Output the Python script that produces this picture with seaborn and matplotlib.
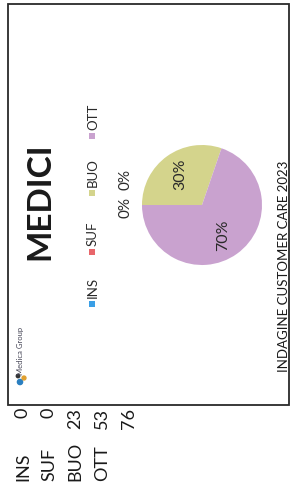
import matplotlib
matplotlib.use('Agg')
import matplotlib.pyplot as plt
from matplotlib.patches import Rectangle
import seaborn as sns

categories = ['INS', 'SUF', 'BUO', 'OTT']
counts = [0, 0, 23, 53]
total = 76
colors_hex = ['#3a9fe6', '#e8666a', '#d4d48c', '#c9a2cf']

title = 'MEDICI'
footer = 'INDAGINE CUSTOMER CARE 2023'
logo_text = 'Medica Group'

sns.set_style('white')
plt.rcParams['font.family'] = ['Lato', 'DejaVu Sans']
palette = sns.color_palette(colors_hex)

fig = plt.figure(figsize=(2.95, 4.95), dpi=100)
fig.patch.set_facecolor('white')

# overlay axes in pixel coordinates (the whole page is turned 90 degrees)
ax = fig.add_axes([0, 0, 1, 1])
ax.set_xlim(0, 295)
ax.set_ylim(495, 0)
ax.axis('off')

ax.add_patch(Rectangle((8, 4), 281, 401, fill=False, edgecolor='#2a2a2a', linewidth=1.3))

ax.text(40, 201, title, rotation=90, ha='center', va='center',
        fontsize=24, fontweight='bold', color='#1a1a1a')
ax.text(284, 266, footer, rotation=90, ha='center', va='center',
        fontsize=9.5, color='#1a1a1a')

# logo
ax.scatter([20, 24, 18], [382, 378, 376], s=[14, 8, 6], color=['#2a7fc0', '#e0a030', '#333333'], marker='o')
ax.text(21, 351, logo_text, rotation=90, ha='center', va='center', fontsize=5.5, color='#445')

# legend (drawn by hand, rotated)
legend_sq = [304, 252, 193, 136]
for cat, col, ys in zip(categories, palette, legend_sq):
    ax.scatter([92], [ys], marker='s', s=22, color=col, edgecolor='none')
    ax.text(93, ys - 6, cat, rotation=90, ha='center', va='bottom', fontsize=9.5, color='#2a2a2a')

# zero labels for INS / SUF sit above the pie
zero_y = [208, 180]
for c, yy in zip(counts[:2], zero_y):
    ax.text(126, yy, f'{c / total:.0%}', rotation=90, ha='center', va='center',
            fontsize=11, color='#2a2a2a')

# table under the box
row_x = [23, 49, 75, 102, 129]
for cat, c, xx in zip(categories, counts, row_x):
    ax.text(xx, 481, cat, rotation=90, ha='center', va='bottom', fontsize=13, color='#1a1a1a')
    ax.text(xx, 408, str(c), rotation=90, ha='center', va='top', fontsize=13, color='#1a1a1a')
ax.text(row_x[4], 408, str(total), rotation=90, ha='center', va='top', fontsize=13, color='#1a1a1a')

# pie
cx, cy, r = 202, 205, 60
pax = fig.add_axes([(cx - r) / 295, (495 - cy - r) / 495, 2 * r / 295, 2 * r / 495])
wedges, texts, autotexts = pax.pie(
    counts, colors=palette, startangle=180, counterclock=False,
    autopct=lambda p: f'{p:.0f}%' if p > 0 else '', pctdistance=0.62,
    wedgeprops={'linewidth': 0},
    textprops={'rotation': 90, 'fontsize': 11.5, 'color': '#2a2a2a'},
)
pax.set_xlim(-1, 1)
pax.set_ylim(-1, 1)
pax.set_aspect('equal')

fig.savefig('out.png', dpi=100)
